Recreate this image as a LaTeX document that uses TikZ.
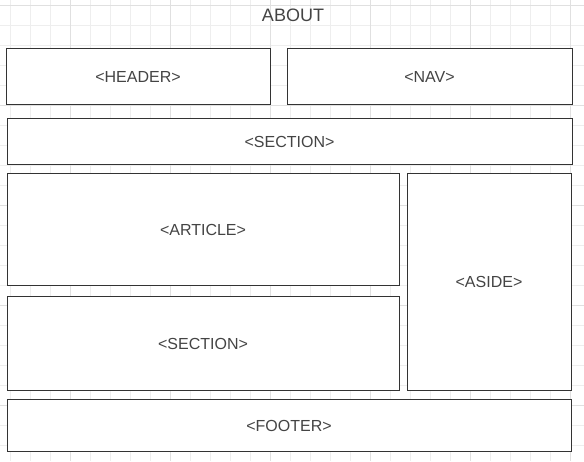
\documentclass[tikz,border=0pt]{standalone}
\usepackage{fontspec}
\setmainfont{Liberation Sans}
\definecolor{minorgrid}{HTML}{EEEEEE}
\definecolor{majorgrid}{HTML}{E0E0E0}
\definecolor{boxline}{HTML}{333333}
\definecolor{boxtext}{HTML}{444444}
\begin{document}
\begin{tikzpicture}[x=1pt,y=-1pt,
  blk/.style={draw=boxline,line width=1pt,fill=white,text=boxtext,inner sep=0pt,
    font=\fontsize{16}{19}\selectfont},
  title/.style={text=boxtext,font=\fontsize{18}{21}\selectfont}]
\useasboundingbox (0,0) rectangle (584,461);
\fill[white] (0,0) rectangle (584,461);
\foreach \x in {10,30,...,590} \draw[minorgrid,line width=1pt] (\x,0) -- (\x,461);
\foreach \y in {5,25,...,465} \draw[minorgrid,line width=1pt] (0,\y) -- (584,\y);
\foreach \x in {70,170,...,570} \draw[majorgrid,line width=1pt] (\x,0) -- (\x,461);
\foreach \y in {5,105,...,405} \draw[majorgrid,line width=1pt] (0,\y) -- (584,\y);
\node[title] (about) at (293,15.5) {ABOUT};
\node[blk,minimum width=264pt,minimum height=56pt] (header) at (138,76.5) {<HEADER>};
\node[blk,minimum width=285pt,minimum height=56pt] (nav) at (429.5,76.5) {<NAV>};
\node[blk,minimum width=565pt,minimum height=46pt] (section) at (289.5,141.5) {<SECTION>};
\node[blk,minimum width=392pt,minimum height=112pt] (article) at (203,229.5) {<ARTICLE>};
\node[blk,minimum width=164pt,minimum height=217pt] (aside) at (489,281.5) {<ASIDE>};
\node[blk,minimum width=392pt,minimum height=94pt] (section2) at (203,343.5) {<SECTION>};
\node[blk,minimum width=564pt,minimum height=52pt] (footer) at (289,425.5) {<FOOTER>};
\end{tikzpicture}
\end{document}
